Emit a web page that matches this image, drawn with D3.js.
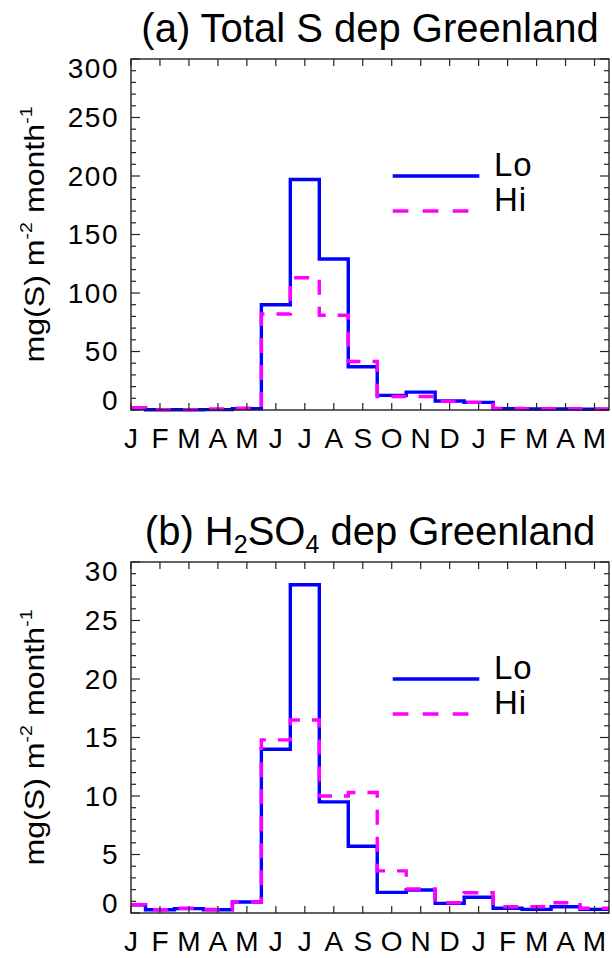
<!DOCTYPE html>
<html>
<head>
<meta charset="utf-8">
<script src="https://cdn.jsdelivr.net/npm/d3@7/dist/d3.min.js"></script>
<style>
  html, body { margin: 0; padding: 0; background: #fff; }
  svg { display: block; }
  text { font-family: "Liberation Sans", Arial, Helvetica, sans-serif; fill: #000; }
</style>
</head>
<body>
<svg id="chart" width="612" height="958"></svg>
<script>
// ---- data ----
const months = ["J","F","M","A","M","J","J","A","S","O","N","D","J","F","M","A","M"];
const totalLo = [1.5, 0.2, 0.2, 0.3, 1.2, 90, 197, 129, 37, 12.5, 15.3, 7.7, 6.5, 1.1, 0.9, 0.9, 0.6];
const totalHi = [2.0, 0.3, 0.3, 1.0, 1.5, 82, 113, 81, 41.5, 11.6, 11.6, 7.4, 6.5, 1.4, 1.0, 1.0, 0.6];
const h2so4Lo = [0.7, 0.28, 0.37, 0.28, 0.94, 14.0, 28.06, 9.5, 5.7, 1.76, 1.96, 0.82, 1.34, 0.4, 0.31, 0.54, 0.31];
const h2so4Hi = [0.7, 0.28, 0.4, 0.3, 0.94, 14.8, 16.5, 10.0, 10.3, 3.6, 2.05, 0.88, 1.73, 0.54, 0.54, 0.88, 0.4];
const yTicksA = [0, 50, 100, 150, 200, 250, 300];
const yTicksB = [0, 5, 10, 15, 20, 25, 30];
const seriesNames = ["Lo", "Hi"];

const svg = d3.select("#chart");
const FONT_TICK = 28;
const LEFT = 131, RIGHT = 609;
const BLUE = "#0000ff", MAG = "#ff00ff";

function drawPanel(cfg) {
  const top = cfg.top, bottom = cfg.bottom;
  const x = d3.scaleLinear().domain([0, months.length - 0.5]).range([LEFT, RIGHT]);
  const y = d3.scaleLinear().domain([0, cfg.yMax]).range([bottom, top]);
  const g = svg.append("g");

  // step series
  const stepPts = vals => {
    const pts = vals.map((v, i) => [Math.max(0, i - 0.5), v]);
    pts.push([months.length - 0.5, vals[vals.length - 1]]);
    return pts;
  };
  const line = d3.line().x(d => x(d[0])).y(d => y(d[1])).curve(d3.curveStepAfter);

  g.append("path").attr("d", line(stepPts(cfg.lo)))
    .attr("fill", "none").attr("stroke", BLUE).attr("stroke-width", 3.4);
  g.append("path").attr("d", line(stepPts(cfg.hi)))
    .attr("fill", "none").attr("stroke", MAG).attr("stroke-width", 3.4)
    .attr("stroke-dasharray", "15,12");

  // frame
  g.append("rect").attr("x", LEFT).attr("y", top)
    .attr("width", RIGHT - LEFT).attr("height", bottom - top)
    .attr("fill", "none").attr("stroke", "#222").attr("stroke-width", 1.4);

  // y ticks (major + minor) on left and right
  const minorStep = cfg.yMax / 30;
  const allY = d3.range(0, cfg.yMax + minorStep / 2, minorStep);
  allY.forEach((v, k) => {
    const major = k % 5 === 0;
    const len = major ? 9 : 5;
    const yy = y(v);
    g.append("line").attr("x1", LEFT).attr("x2", LEFT + len).attr("y1", yy).attr("y2", yy)
      .attr("stroke", "#222").attr("stroke-width", 1.2);
    g.append("line").attr("x1", RIGHT).attr("x2", RIGHT - len).attr("y1", yy).attr("y2", yy)
      .attr("stroke", "#222").attr("stroke-width", 1.2);
  });
  // y tick labels
  cfg.yTicks.forEach(v => {
    const yy = Math.min(Math.max(y(v), top + 9), bottom - 10);
    g.append("text").attr("x", 119).attr("y", yy)
      .attr("text-anchor", "end").attr("dominant-baseline", "central")
      .attr("font-size", FONT_TICK).style("letter-spacing", "1.5px")
      .text(v);
  });

  // x ticks top and bottom
  months.forEach((m, i) => {
    const xx = x(i);
    g.append("line").attr("x1", xx).attr("x2", xx).attr("y1", bottom).attr("y2", bottom - 7)
      .attr("stroke", "#222").attr("stroke-width", 1.2);
    g.append("line").attr("x1", xx).attr("x2", xx).attr("y1", top).attr("y2", top + 7)
      .attr("stroke", "#222").attr("stroke-width", 1.2);
    g.append("text").attr("x", xx).attr("y", bottom + 37.5)
      .attr("text-anchor", "middle").attr("font-size", FONT_TICK).text(m);
  });

  // y label
  const cy = (top + bottom) / 2;
  const yl = g.append("text")
    .attr("transform", `translate(44,${cy}) rotate(-90)`)
    .attr("text-anchor", "middle").attr("font-size", 28)
    .attr("textLength", 256).attr("lengthAdjust", "spacingAndGlyphs");
  yl.append("tspan").text("mg(S) m");
  yl.append("tspan").attr("font-size", 17).attr("dy", -12).text("-2");
  yl.append("tspan").attr("dy", 12).text(" month");
  yl.append("tspan").attr("font-size", 17).attr("dy", -12).text("-1");

  // title
  const t = g.append("text").attr("x", (LEFT + RIGHT) / 2).attr("y", top - 17)
    .attr("text-anchor", "middle").attr("font-size", 40);
  cfg.title(t);

  // legend
  const lx1 = 392.7, lx2 = 479.3;
  const ly = [cfg.legY, cfg.legY + 35];
  g.append("line").attr("x1", lx1).attr("x2", lx2).attr("y1", ly[0]).attr("y2", ly[0])
    .attr("stroke", BLUE).attr("stroke-width", 3.4);
  g.append("line").attr("x1", lx1).attr("x2", 470).attr("y1", ly[1]).attr("y2", ly[1])
    .attr("stroke", MAG).attr("stroke-width", 3.4).attr("stroke-dasharray", "15.7,14.3");
  seriesNames.forEach((s, i) => {
    g.append("text").attr("x", 494).attr("y", ly[i]).attr("font-size", 33)
      .style("letter-spacing", "1px").text(s);
  });
}

drawPanel({
  top: 59, bottom: 410, yMax: 300, yTicks: yTicksA, lo: totalLo, hi: totalHi, legY: 176,
  title: t => t.text("(a) Total S dep Greenland")
});
drawPanel({
  top: 562, bottom: 913, yMax: 30, yTicks: yTicksB, lo: h2so4Lo, hi: h2so4Hi, legY: 679,
  title: t => {
    t.append("tspan").text("(b) H");
    t.append("tspan").attr("font-size", 25).attr("dy", 8).text("2");
    t.append("tspan").attr("dy", -8).text("SO");
    t.append("tspan").attr("font-size", 25).attr("dy", 8).text("4");
    t.append("tspan").attr("dy", -8).text(" dep Greenland");
  }
});
</script>
</body>
</html>
